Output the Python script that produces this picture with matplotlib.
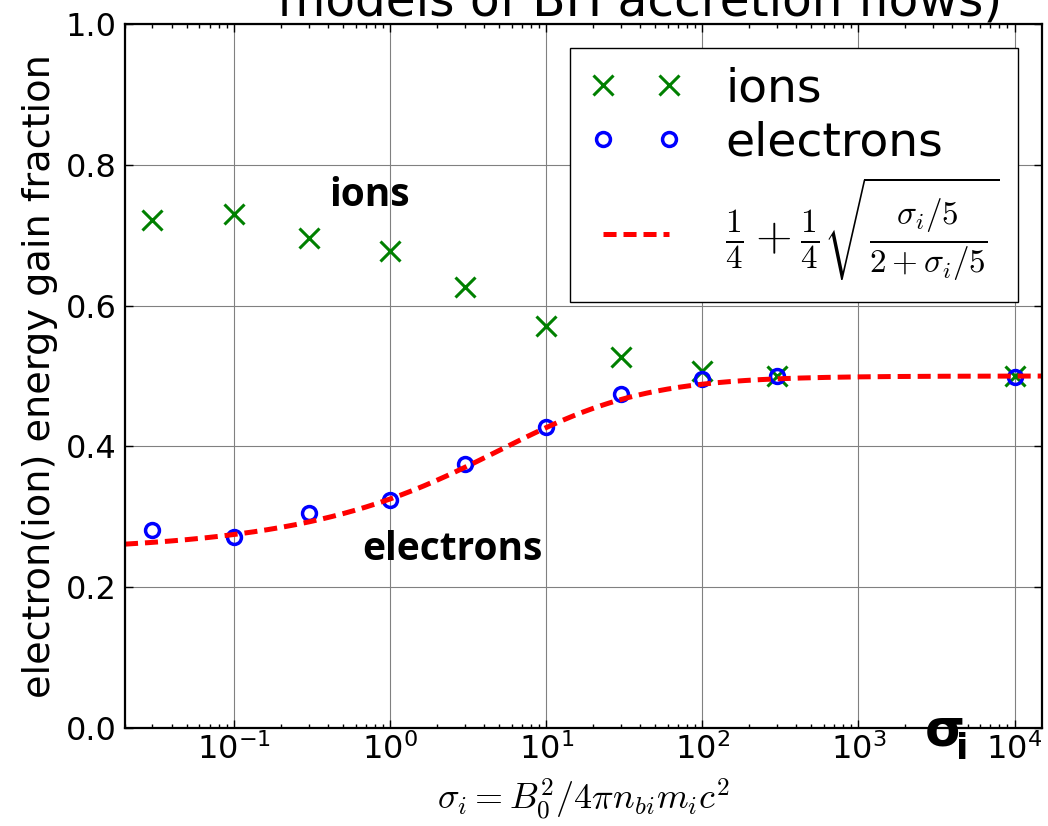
import matplotlib
matplotlib.use("Agg")
import matplotlib.pyplot as plt
import numpy as np

# magnetization values of the runs
sigma = [0.03, 0.1, 0.3, 1, 3, 10, 30, 100, 300, 1e4]
ion_frac = [0.721, 0.730, 0.696, 0.678, 0.626, 0.571, 0.527, 0.507, 0.500, 0.500]
electron_frac = [0.281, 0.272, 0.306, 0.324, 0.375, 0.428, 0.475, 0.496, 0.500, 0.499]

x_range = [0.02, 1.5e4]
y_ticks = [0.0, 0.2, 0.4, 0.6, 0.8, 1.0]

title_text = "models of BH accretion flows)"
ylabel_text = "electron(ion) energy gain fraction"
xlabel_text = r"$\sigma_i = B_0^2/4\pi n_{bi} m_i c^2$"
fit_label = r"$\frac{1}{4}+\frac{1}{4}\sqrt{\frac{\sigma_i/5}{2+\sigma_i/5}}$"

plt.rcParams['mathtext.fontset'] = 'cm'
plt.rcParams['font.family'] = 'DejaVu Sans'
plt.rcParams['lines.scale_dashes'] = False
plt.rcParams['axes.unicode_minus'] = False

W, H = 1048, 826
fig = plt.figure(figsize=(W / 100, H / 100), dpi=100)
ax = fig.add_axes([125 / W, 1 - 728 / H, (1042 - 125) / W, (728 - 24) / H])

# model curve from the legend formula
s_fit = np.logspace(np.log10(x_range[0]), np.log10(x_range[1]), 400)
f_fit = 0.25 + 0.25 * np.sqrt((s_fit / 5) / (2 + s_fit / 5))

ax.plot(sigma, ion_frac, 'x', color=(0, 0.5, 0), markersize=14, mew=2.2,
        linestyle='none', label='ions')
ax.plot(sigma, electron_frac, 'o', color='b', mfc='none', markersize=10, mew=2.5,
        linestyle='none', label='electrons')
ax.plot(s_fit, f_fit, color='r', lw=3.6, dashes=(9.4, 5.0), label=fit_label)

ax.set_xscale('log')
ax.set_xlim(x_range)
ax.set_ylim(0, 1)
ax.set_yticks(y_ticks)
ax.set_yticklabels(['%.1f' % v for v in y_ticks])
ax.grid(True, which='major', color='0.5', linestyle='-', linewidth=0.8)
ax.tick_params(which='both', direction='in', top=True, right=True, labelsize=23)
ax.tick_params(which='major', length=6, width=1)
ax.tick_params(which='minor', length=3, width=1)
ax.tick_params(axis='y', pad=6)
for sp in ax.spines.values():
    sp.set_linewidth(1.6)

ax.legend(loc='upper right', numpoints=2, fontsize=34, labelspacing=0.2,
          handletextpad=0.9, fancybox=False, edgecolor='k', framealpha=1)

ax.set_xlabel(xlabel_text, fontsize=26, labelpad=8)
fig.text(40 / W, 1 - 376 / H, ylabel_text, rotation=90, fontsize=27.5,
         ha='center', va='center')
fig.text(640 / W, 1 - 15 / H, title_text, fontsize=35, ha='center', va='baseline')

# labels pasted on the plot
ax.text(0.41, 0.757, 'ions', family='Open Sans', fontweight='bold', fontsize=28,
        ha='left', va='center')
ax.text(0.66, 0.253, 'electrons', family='Open Sans', fontweight='bold', fontsize=28,
        ha='left', va='center')
fig.text(925 / W, 1 - 745 / H, 'σ', fontsize=37, fontweight='bold',
         ha='left', va='baseline')
fig.text(956 / W, 1 - 759 / H, 'i', fontsize=26, fontweight='bold',
         ha='left', va='baseline')

fig.savefig('out.png', dpi=100)
